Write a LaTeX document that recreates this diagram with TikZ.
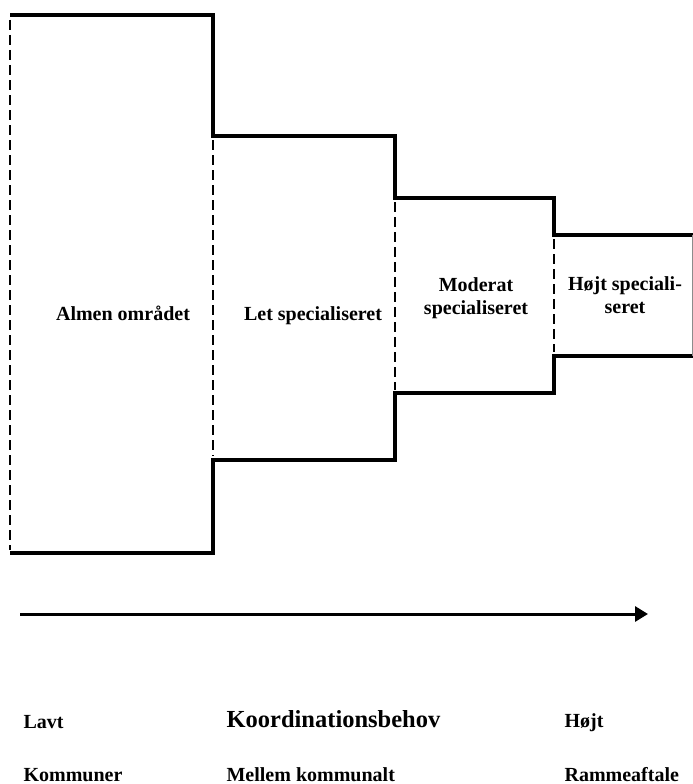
\documentclass[tikz,border=0pt]{standalone}
\usepackage{fontspec}
\setmainfont{Liberation Serif}
\usetikzlibrary{arrows.meta}
\begin{document}
\begin{tikzpicture}[x=1pt, y=-1pt, line width=3.2pt, every node/.style = {inner sep=0pt, align=center, font=\bfseries\fontsize{20}{23}\selectfont}]
	\tikzstyle{edge} = [line width=3.4pt, line join=miter]
	\tikzstyle{cut} = [line width=2pt, dash pattern=on 10pt off 5pt]
	\tikzstyle{thin} = [line width=0.6pt, black!45]
	\tikzstyle{axis} = [line width=3pt, -{Triangle[length=13pt, width=15pt]}]
	\tikzstyle{level} = [anchor=base west]
	\useasboundingbox (0,0) rectangle (693,784);
	% outline of the four areas
	\draw[edge] (10,15) -- (213,15) -- (213,136) -- (395,136) -- (395,198) -- (554,198) -- (554,235) -- (693,235);
	\draw[edge] (10,553) -- (213,553) -- (213,460) -- (395,460) -- (395,393) -- (554,393) -- (554,356) -- (693,356);
	\draw[cut] (10,20) -- (10,550);
	\draw[cut] (213,140) -- (213,456);
	\draw[cut] (395,202) -- (395,390);
	\draw[cut] (554,239) -- (554,352);
	\draw[thin] (692,235) -- (692,356);
	\node (almen) at (123,320) [anchor=base] {Almen området};
	\node (let) at (313,320) [anchor=base] {Let specialiseret};
	\node (moderat) at (476,298) {Moderat\\specialiseret};
	\node (hoejt) at (625,295) {Højt speciali-\\seret};
	% axis
	\coordinate (astart) at (20,614);
	\coordinate (aend) at (648,614);
	\draw[axis] (astart) -- (aend);
	\node[level] (lavt) at (22,728) {Lavt};
	\node[level, font=\bfseries\fontsize{24.5}{28}\selectfont] (koord) at (225,727) {Koordinationsbehov};
	\node[level] (hoej) at (563,727) {Højt};
	\node[level] (kommuner) at (22,781) {Kommuner};
	\node[level] (mellem) at (225,781) {Mellem kommunalt};
	\node[level] (ramme) at (563,781) {Rammeaftale};
\end{tikzpicture}
\end{document}
